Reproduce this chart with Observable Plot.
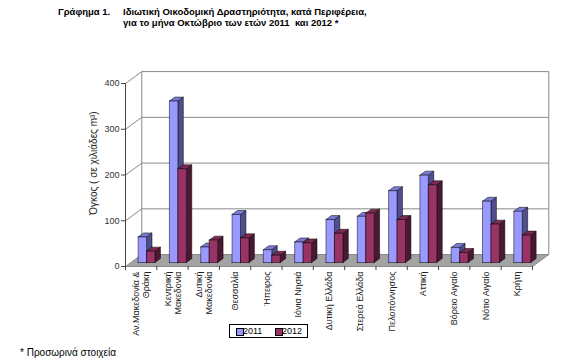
<!DOCTYPE html>
<html>
<head>
<meta charset="utf-8">
<script src="https://cdn.jsdelivr.net/npm/d3@7"></script>
<script src="https://cdn.jsdelivr.net/npm/@observablehq/plot@0.6"></script>
<style>
  html, body { margin: 0; padding: 0; background: #fff; }
  #wrap { position: relative; width: 565px; height: 361px; overflow: hidden; font-family: "Liberation Sans", Arial, sans-serif; color: #000; }
  .title { position: absolute; font-weight: bold; font-size: 9.5px; white-space: pre; }
  #chart { position: absolute; left: 0; top: 30px; }
  #legend { position: absolute; left: 229px; top: 324px; width: 77px; height: 12px; border: 1px solid #000; background: #fff; font-size: 9px; }
  #legend span.sw { position: absolute; top: 3px; width: 6px; height: 6px; border: 0.5px solid #000; }
  #legend span.lb { position: absolute; top: 0px; line-height: 12px; }
  #foot { position: absolute; left: 20px; top: 347px; font-size: 10px; white-space: pre; }
</style>
</head>
<body>
<div id="wrap">
  <div class="title" style="left:58px; top:6px;">Γράφημα 1.</div>
  <div class="title" style="left:123px; top:6px;">Ιδιωτική Οικοδομική Δραστηριότητα, κατά Περιφέρεια,</div>
  <div class="title" style="left:123px; top:17px;">για το μήνα Οκτώβριο των ετών 2011  και 2012 *</div>
  <div id="chart"></div>
  <div id="legend"></div>
  <div id="foot">* Προσωρινά στοιχεία</div>
</div>
<script>
const categories = ["Αν.Μακεδονία &\nΘράκη", "Κεντρική\nΜακεδονία", "Δυτική\nΜακεδονία", "Θεσσαλία", "Ήπειρος", "Ιόνια Νησιά", "Δυτική Ελλάδα", "Στερεά Ελλάδα", "Πελοπόννησος", "Αττική", "Βόρειο Αιγαίο", "Νότιο Αιγαίο", "Κρήτη"];
const series = ["2011", "2012"];
const v2011 = [56, 353, 34, 105, 28, 45, 94, 101, 157, 191, 33, 134, 112];
const v2012 = [25, 205, 49, 54, 16, 43, 64, 108, 94, 170, 22, 84, 60];
const yTicks = [0, 100, 200, 300, 400];
const yLabel = "Όγκος ( σε χιλιάδες m³)";

const colors = {
  "2011": {front: "#9999ff", top: "#7b7bd6", side: "#4f4f8f"},
  "2012": {front: "#993366", top: "#7d2952", side: "#4a1931"}
};

const n = categories.length;
const yMax = 400;
// 3D depth of the floor/back wall in data units
const DX = 0.52, DY = 26;
const t0 = 1/3, tb = 1/3;         // bar depth position
const ox = t0 * DX, oy = t0 * DY;
const bx = tb * DX, by = tb * DY;
const bw = 0.27;

function faces(values, s, k) {
  const front = [], side = [], top = [];
  values.forEach((v, i) => {
    const xl = i + 0.5 + (k === 0 ? -bw : 0) + ox;
    const xr = xl + bw;
    const id = s + "-" + i;
    const y0 = oy, y1 = v + oy;
    [[xl, y0], [xr, y0], [xr, y1], [xl, y1], [xl, y0]].forEach(([x, y]) => front.push({id, x, y}));
    [[xr, y0], [xr + bx, y0 + by], [xr + bx, y1 + by], [xr, y1], [xr, y0]].forEach(([x, y]) => side.push({id, x, y}));
    [[xl, y1], [xr, y1], [xr + bx, y1 + by], [xl + bx, y1 + by], [xl, y1]].forEach(([x, y]) => top.push({id, x, y}));
  });
  return {front, side, top};
}

const f2011 = faces(v2011, "2011", 0);
const f2012 = faces(v2012, "2012", 1);

const backWall = [[DX, DY], [n + DX, DY], [n + DX, yMax + DY], [DX, yMax + DY], [DX, DY]].map(([x, y]) => ({x, y}));
const floor = [[0, 0], [n, 0], [n + DX, DY], [DX, DY], [0, 0]].map(([x, y]) => ({x, y}));
const gridBack = yTicks.filter(t => t > 0 && t < yMax);
const sideLines = yTicks.filter(t => t > 0);

function barMarks(f, s) {
  const c = colors[s];
  const common = {x: "x", y: "y", z: "id", stroke: "#000", strokeWidth: 0.5, strokeLinejoin: "miter", curve: "linear"};
  return [
    Plot.line(f.side, {...common, fill: c.side}),
    Plot.line(f.top, {...common, fill: c.top}),
    Plot.line(f.front, {...common, fill: c.front})
  ];
}

const chart = Plot.plot({
  width: 565,
  height: 310,
  marginTop: 53,
  marginBottom: 74,
  marginLeft: 125,
  marginRight: 33,
  x: {type: "linear", domain: [0, n]},
  y: {domain: [0, yMax]},
  style: {fontFamily: "'Liberation Sans', Arial, sans-serif", fontSize: "9px", background: "transparent", color: "#222", overflow: "visible"},
  marks: [
    Plot.line(backWall, {x: "x", y: "y", fill: "#fff", stroke: "#888", strokeWidth: 1}),
    Plot.link(gridBack, {x1: DX, x2: n + DX, y1: d => d + DY, y2: d => d + DY, stroke: "#888", strokeWidth: 1}),
    Plot.link(sideLines, {x1: 0, x2: DX, y1: d => d, y2: d => d + DY, stroke: "#888", strokeWidth: 1}),
    Plot.line(floor, {x: "x", y: "y", fill: "#a3a3a3", stroke: "#8a8a8a", strokeWidth: 1}),
    Plot.ruleX([0], {y1: 0, y2: yMax, stroke: "#444", strokeWidth: 1}),
    ...barMarks(f2011, "2011"),
    ...barMarks(f2012, "2012"),
    Plot.axisY(yTicks, {tickSize: 4, tickPadding: 2, stroke: "#444", fill: "#333", fontSize: 9, label: null}),
    Plot.text([yLabel], {text: d => d, frameAnchor: "left", textAnchor: "middle", lineAnchor: "middle", dx: -32, dy: -12, rotate: -90, fontSize: 10, fill: "#222"}),
    Plot.axisX(d3.range(n + 1), {tickSize: 4, stroke: "#444", tickFormat: () => "", label: null}),
    Plot.axisX(d3.range(n).map(i => i + 0.5), {tickSize: 0, tickPadding: 5, tickRotate: -90, fill: "#222", fontSize: 9,
      lineHeight: 1.1, tickFormat: d => categories[Math.floor(d)], label: null})
  ]
});
document.getElementById("chart").appendChild(chart);

// legend
const leg = document.getElementById("legend");
series.forEach((s, k) => {
  const sw = document.createElement("span");
  sw.className = "sw";
  sw.style.left = (6 + k * 39) + "px";
  sw.style.background = colors[s].front;
  leg.appendChild(sw);
  const lb = document.createElement("span");
  lb.className = "lb";
  lb.style.left = (13 + k * 39) + "px";
  lb.textContent = s;
  leg.appendChild(lb);
});
</script>
</body>
</html>
